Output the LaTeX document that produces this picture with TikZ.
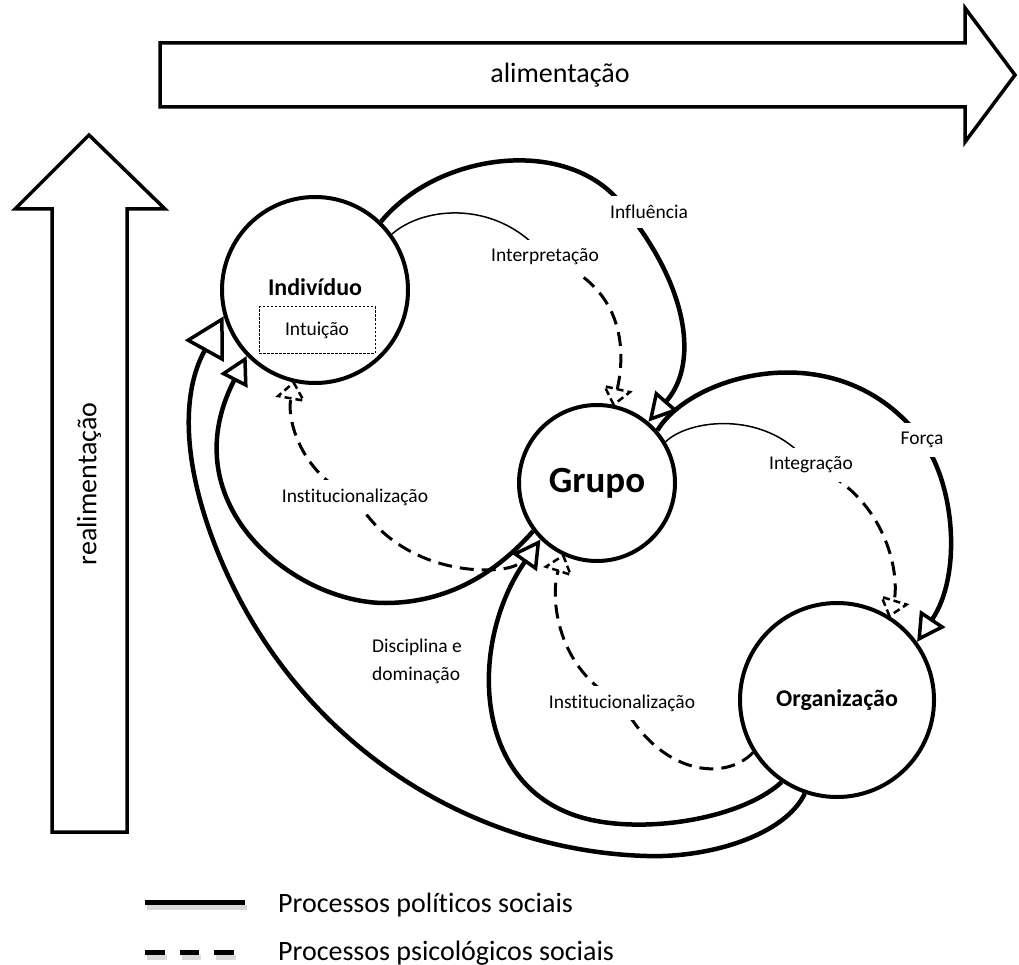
\documentclass[tikz,border=0pt]{standalone}
\usepackage{fontspec}
\setmainfont{Carlito}[Ligatures={NoCommon}]
\usetikzlibrary{arrows.meta}
\newcommand{\mydashtip}[3]{%
  \begin{scope}[shift={(#1)}, rotate=#2]
    \draw[dtri] (0,0) -- (-16,13) -- (-16,-13) -- cycle;
    \coordinate (#3) at (-16,0);
  \end{scope}}
\begin{document}
\begin{tikzpicture}[x=1pt,y=-1pt,
  circ/.style={circle, draw, line width=4pt, inner sep=0pt},
  lbl/.style={font=\fontsize{19.5}{23}\selectfont, fill=white, inner sep=9pt},
  pol/.style={line width=4.5pt},
  psy/.style={line width=3pt, dash pattern=on 14pt off 8pt},
  thinline/.style={line width=1.5pt},
  poltip/.style={-{Triangle[open, length=28pt, width=30pt, line width=3.5pt]}},
  bigpoltip/.style={-{Triangle[open, length=40pt, width=44pt, line width=3.5pt]}},
  dtri/.style={line width=2.5pt, dash pattern=on 7pt off 4pt, line join=miter},
  blockarrow/.style={draw, line width=3.5pt, line join=miter, fill=white},
  bigtext/.style={font=\fontsize{28}{32}\selectfont},
  legtext/.style={font=\fontsize{28}{32}\selectfont, anchor=base west, inner sep=0pt},
]
\useasboundingbox (0,0) rectangle (1019,965);

% block arrows
\draw[blockarrow] (160,43) -- (965,43) -- (965,8) -- (1015,75) -- (965,142) -- (965,107) -- (160,107) -- cycle;
\node[bigtext] (alim) at (560,75) {alimentação};
\draw[blockarrow] (89,135) -- (165,209) -- (127,209) -- (127,832) -- (52,832) -- (52,209) -- (15,209) -- cycle;
\node[bigtext, rotate=90] (realim) at (89,484) {realimentação};

% circles
\node[circ, minimum size=186pt] (ind) at (315,290) {};
\node[font=\fontsize{24}{28}\selectfont\bfseries] (indt) at (315,287) {Indivíduo};
\node[draw, line width=1pt, dash pattern=on 2.5pt off 1.5pt, minimum width=116pt, minimum height=46pt, font=\fontsize{19.5}{23}\selectfont] (intu) at (317,330) {Intuição};
\node[circ, minimum size=156pt, font=\fontsize{37}{44}\selectfont\bfseries] (grp) at (597,483) {Grupo};
\node[circ, minimum size=194pt, font=\fontsize{24}{28}\selectfont\bfseries] (org) at (837,700) {Organização};

% Influencia
\draw[pol, poltip] (ind.46) .. controls (440,150) and (575,135) .. (626,210) .. controls (690,290) and (698,365) .. (grp.50);
% Interpretacao
\draw[thinline] (ind.36) .. controls (425,205) and (500,200) .. (545,257);
\mydashtip{grp.78}{-103}{t1}
\draw[psy] (545,257) .. controls (625,285) and (626,350) .. (t1);
% Forca
\draw[pol, poltip] (grp.41) .. controls (690,375) and (840,330) .. (922,440) .. controls (955,484) and (962,575) .. (org.36);
% Integracao
\draw[thinline] (grp.31) .. controls (690,418) and (770,410) .. (810,465);
\mydashtip{org.58}{-107}{t2}
\draw[psy] (810,465) .. controls (885,495) and (900,572) .. (t2);
% Institucionalizacao 1 (Grupo -> Individuo)
\draw[psy, shorten <=36pt] (grp.232) .. controls (500,575) and (400,578) .. (355,497);
\mydashtip{ind.257}{80}{t3}
\draw[psy] (355,497) .. controls (305,478) and (286,423) .. (t3);
% Institucionalizacao 2 (Organizacao -> Grupo)
\draw[psy] (org.212) .. controls (725,782) and (660,775) .. (622,703);
\mydashtip{grp.245}{72}{t4}
\draw[psy] (622,703) .. controls (555,670) and (550,595) .. (t4);
% political arcs
\draw[pol, poltip] (grp.217) .. controls (490,580) and (440,603) .. (385,603) .. controls (295,603) and (170,505) .. (ind.224);
\draw[pol, poltip] (org.236) .. controls (740,820) and (640,835) .. (580,817) .. controls (470,784) and (470,640) .. (grp.225);
\draw[pol, bigpoltip] (org.251) .. controls (785,835) and (710,858) .. (647,856) .. controls (470,851) and (299,744) .. (221,560) .. controls (182,468) and (180.6,394) .. (ind.196);

% labels
\node[lbl] (infl) at (649,212) {Influência};
\node[lbl] (interp) at (545,257) {Interpretação};
\node[lbl] (forca) at (922,440) {Força};
\node[lbl] (integ) at (811,465) {Integração};
\node[lbl] (inst1) at (355,497) {Institucionalização};
\node[lbl] (inst2) at (622,703) {Institucionalização};
\node[font=\fontsize{19.5}{28}\selectfont, align=left, anchor=west, inner sep=0pt] (disc) at (372,661) {Disciplina e\\dominação};

% legend
\coordinate (la) at (145,902);
\coordinate (lb) at (245,902);
\coordinate (lc) at (145,952);
\coordinate (ld) at (236,952);
\draw[line width=5pt, gray!30] ([shift={(2,5)}]la) -- ([shift={(2,5)}]lb);
\draw[line width=5pt, gray!30, dash pattern=on 19.5pt off 15pt] ([shift={(2,5)}]lc) -- ([shift={(2,5)}]ld);
\draw[line width=5pt] (la) -- (lb);
\draw[line width=5pt, dash pattern=on 19.5pt off 15pt] (lc) -- (ld);
\node[legtext] (leg1) at (278,912) {Processos políticos sociais};
\node[legtext] (leg2) at (278,960) {Processos psicológicos sociais};
\end{tikzpicture}
\end{document}
